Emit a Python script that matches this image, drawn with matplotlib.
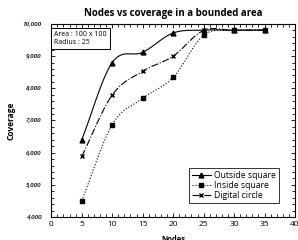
import matplotlib
matplotlib.use("Agg")
import matplotlib.pyplot as plt
import numpy as np
from matplotlib.ticker import MultipleLocator, FuncFormatter

plt.rcParams["font.family"] = ["Open Sans", "DejaVu Sans"]

# ── data ──────────────────────────────────────────────────────────────────────
nodes = [5, 10, 15, 20, 25, 30, 35]
outside_square = [6400, 8800, 9120, 9720, 9810, 9810, 9815]
inside_square = [4500, 6870, 7690, 8340, 9650, 9800, 9810]
digital_circle = [5880, 7790, 8530, 9000, 9800, 9800, 9810]


def smooth(x, y, n=20):
    """Catmull-Rom curve through the given points (Excel style smoothed line)."""
    x = np.asarray(x, float)
    y = np.asarray(y, float)
    px = np.concatenate([[2 * x[0] - x[1]], x, [2 * x[-1] - x[-2]]])
    py = np.concatenate([[2 * y[0] - y[1]], y, [2 * y[-1] - y[-2]]])
    xs, ys = [], []
    t = np.linspace(0, 1, n)
    for i in range(1, len(px) - 2):
        for p, out in ((px, xs), (py, ys)):
            p0, p1, p2, p3 = p[i - 1], p[i], p[i + 1], p[i + 2]
            out.extend(0.5 * (2 * p1 + (-p0 + p2) * t
                              + (2 * p0 - 5 * p1 + 4 * p2 - p3) * t ** 2
                              + (-p0 + 3 * p1 - 3 * p2 + p3) * t ** 3))
    return np.array(xs), np.array(ys)


fig = plt.figure(figsize=(2.98, 2.4), dpi=100)
ax = fig.add_axes([0.172, 0.096, 0.818, 0.804])

series = [
    (outside_square, "Outside square", "-", "^"),
    (inside_square, "Inside square", ":", "s"),
    (digital_circle, "Digital circle", "-.", "x"),
]
for vals, label, ls, mk in series:
    sx, sy = smooth(nodes, vals)
    ax.plot(sx, sy, color="black", linestyle=ls, linewidth=0.8)
    ax.plot(nodes, vals, linestyle="none", marker=mk, color="black",
            markersize=3.5, markeredgewidth=1.0)
    ax.plot([], [], color="black", linestyle=ls, marker=mk, linewidth=0.8,
            markersize=3.5, markeredgewidth=1.0, label=label)

ax.set_xlim(0, 40)
ax.set_ylim(4000, 10000)
ax.xaxis.set_major_locator(MultipleLocator(5))
ax.xaxis.set_minor_locator(MultipleLocator(1))
ax.yaxis.set_major_locator(MultipleLocator(1000))
ax.yaxis.set_minor_locator(MultipleLocator(200))
ax.yaxis.set_major_formatter(FuncFormatter(lambda v, p: f"{int(v):,}"))
ax.tick_params(which="both", direction="in", top=True, right=True, width=0.6)
ax.tick_params(which="major", length=3)
ax.tick_params(which="minor", length=2)
ax.tick_params(axis="x", labelsize=6, pad=3, colors="black")
ax.tick_params(axis="y", labelsize=4.5, pad=7)
for lbl in ax.get_yticklabels():
    lbl.set_fontstyle("italic")
    lbl.set_fontweight("semibold")
for sp in ax.spines.values():
    sp.set_linewidth(0.8)

ax.set_title("Nodes vs coverage in a bounded area", fontsize=7, fontweight="bold", pad=6)
ax.set_ylabel("Coverage", fontsize=6, fontweight="bold", labelpad=5)
ax.set_xlabel("Nodes", fontsize=5.5, fontweight="bold", labelpad=5)

ax.text(0.012, 0.965, "Area : 100 x 100\nRadius : 25", transform=ax.transAxes,
        fontsize=5, va="top", ha="left", linespacing=1.3,
        bbox=dict(boxstyle="square,pad=0.4", facecolor="white", edgecolor="black", linewidth=0.7))

leg = ax.legend(loc="lower right", bbox_to_anchor=(0.95, 0.05), fontsize=6.2,
                frameon=True, fancybox=False, edgecolor="black", handlelength=2.2,
                borderpad=0.3, labelspacing=0.15, handletextpad=0.4)
leg.get_frame().set_linewidth(0.7)

fig.savefig("out.png", dpi=100)
